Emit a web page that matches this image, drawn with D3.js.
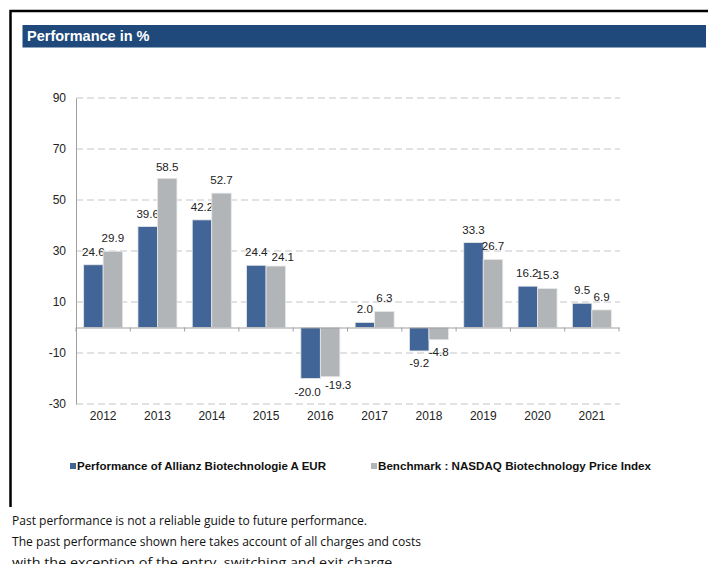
<!DOCTYPE html>
<html>
<head>
<meta charset="utf-8">
<script src="https://cdn.jsdelivr.net/npm/d3@7"></script>
<style>
  body { margin: 0; background: #fff; }
  svg { display: block; }
</style>
</head>
<body>
<div id="chart"></div>
<script>
// Data
const years = ["2012", "2013", "2014", "2015", "2016", "2017", "2018", "2019", "2020", "2021"];
const fund = [24.6, 39.6, 42.2, 24.4, -20.0, 2.0, -9.2, 33.3, 16.2, 9.5];
const bench = [29.9, 58.5, 52.7, 24.1, -19.3, 6.3, -4.8, 26.7, 15.3, 6.9];
const yTicks = [-30, -10, 10, 30, 50, 70, 90];
const seriesNames = ["Performance of Allianz Biotechnologie A EUR", "Benchmark : NASDAQ Biotechnology Price Index"];
const footLines = [
  "Past performance is not a reliable guide to future performance.",
  "The past performance shown here takes account of all charges and costs",
  "with the exception of the entry, switching and exit charge."
];

const svgWidth = 708;
const svgHeight = 564;
const colors = ["#416596", "#b2b5b8"];
const font = "Liberation Sans, Arial, sans-serif";

// labels that the original chart nudged apart (series-index : [dx, dy])
const labelNudge = { "1-1": [0, 2], "1-3": [7, 3.5], "0-4": [-3, 0.5], "1-4": [8, -4], "0-8": [-0.5, 0], "1-8": [0.5, 0] };

const svg = d3.select("#chart")
  .append("svg")
  .attr("width", svgWidth)
  .attr("height", svgHeight);

// frame
svg.append("path")
  .attr("d", "M10.5,507 L10.5,11 L708,11")
  .attr("fill", "none")
  .attr("stroke", "#000")
  .attr("stroke-width", 2.5);

// title bar
svg.append("rect")
  .attr("x", 22.5).attr("y", 25)
  .attr("width", 683.5).attr("height", 22.5)
  .attr("fill", "#1f497b");
svg.append("text")
  .attr("x", 27).attr("y", 41)
  .attr("fill", "#fff")
  .attr("font-family", font)
  .attr("font-weight", "bold")
  .attr("font-size", 14.5)
  .text("Performance in %");

// scales
const x = d3.scaleBand()
  .domain(years)
  .range([76, 619]);

const y = d3.scaleLinear()
  .domain([-30, 90])
  .range([404, 98]);

const barW = 19.5;
const offset = (x.bandwidth() - 2 * barW) / 2;

const chartG = svg.append("g")
  .attr("font-family", font);

// gridlines
chartG.append("g")
  .selectAll("line")
  .data(yTicks)
  .enter()
  .append("line")
  .attr("x1", 76).attr("x2", 620)
  .attr("y1", d => y(d)).attr("y2", d => y(d))
  .attr("stroke", "#d9d9d9")
  .attr("stroke-width", 1.3)
  .attr("stroke-dasharray", "7,4");

// y axis
const yAxis = d3.axisLeft(y)
  .tickValues(yTicks)
  .tickFormat(d => String(d))
  .tickSize(0)
  .tickPadding(10);
const yAxisG = chartG.append("g")
  .attr("transform", "translate(76,0)")
  .call(yAxis);
yAxisG.attr("font-size", 12).attr("font-family", font);
yAxisG.select(".domain").attr("stroke", "#a0a0a0");
yAxisG.selectAll("text").attr("fill", "#222");

// bars
const series = [fund, bench];
series.forEach((vals, i) => {
  chartG.append("g")
    .selectAll("rect")
    .data(vals)
    .enter()
    .append("rect")
    .attr("x", (d, j) => x(years[j]) + offset + i * barW)
    .attr("y", d => y(Math.max(0, d)))
    .attr("width", barW)
    .attr("height", d => Math.abs(y(d) - y(0)))
    .attr("fill", colors[i])
    .attr("stroke", "#e8e8e8")
    .attr("stroke-width", 0.8);

  chartG.append("g")
    .selectAll("text")
    .data(vals)
    .enter()
    .append("text")
    .attr("x", (d, j) => {
      const n = labelNudge[i + "-" + j];
      return x(years[j]) + offset + i * barW + barW / 2 + (n ? n[0] : 0);
    })
    .attr("y", (d, j) => {
      const n = labelNudge[i + "-" + j];
      return (d >= 0 ? y(d) - 9 : y(d) + 16.5) + (n ? n[1] : 0);
    })
    .attr("text-anchor", "middle")
    .attr("font-size", 11.6)
    .attr("fill", "#222")
    .text(d => d.toFixed(1));
});

// x axis (zero line)
const xAxis = d3.axisBottom(x).tickSize(0).tickPadding(0);
const xAxisG = chartG.append("g")
  .attr("transform", `translate(0,${y(0)})`)
  .call(xAxis);
xAxisG.attr("font-size", 12).attr("font-family", font);
xAxisG.select(".domain").attr("stroke", "#a0a0a0");
xAxisG.selectAll("text")
  .attr("fill", "#222")
  .attr("dy", 0)
  .attr("y", y(-30) - y(0) + 16);

// boundary ticks
const bounds = years.map(d => x(d)).concat([x.range()[1]]);
chartG.append("g")
  .selectAll("line")
  .data(bounds)
  .enter()
  .append("line")
  .attr("x1", d => d).attr("x2", d => d)
  .attr("y1", y(0)).attr("y2", y(0) + 4)
  .attr("stroke", "#a0a0a0");

// legend
const legendX = [70, 371];
const legendW = [249, 273];
seriesNames.forEach((name, i) => {
  svg.append("rect")
    .attr("x", legendX[i]).attr("y", 463)
    .attr("width", 6).attr("height", 6)
    .attr("fill", colors[i]);
  svg.append("text")
    .attr("x", legendX[i] + 7).attr("y", 469.5)
    .attr("font-family", font)
    .attr("font-weight", "bold")
    .attr("font-size", 11.3)
    .attr("fill", "#111")
    .attr("textLength", legendW[i])
    .attr("lengthAdjust", "spacingAndGlyphs")
    .text(name);
});

// footer text
const footWidths = [355, 409, 384];
footLines.forEach((line, i) => {
  svg.append("text")
    .attr("x", 12).attr("y", 525 + i * 21)
    .attr("font-family", "Open Sans, sans-serif")
    .attr("font-size", 13.5)
    .attr("fill", "#111")
    .attr("textLength", footWidths[i])
    .attr("lengthAdjust", "spacingAndGlyphs")
    .text(line);
});
</script>
</body>
</html>
